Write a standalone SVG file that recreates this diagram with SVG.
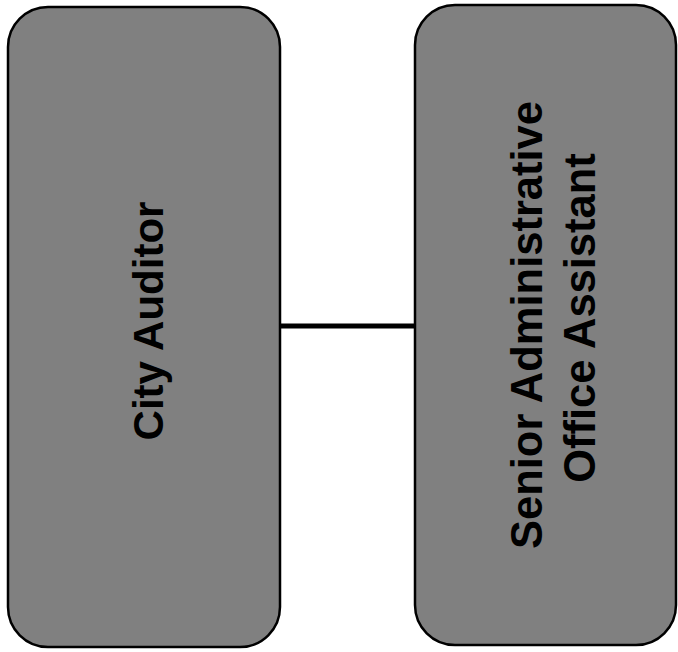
<svg xmlns="http://www.w3.org/2000/svg" width="678" height="652" viewBox="0 0 678 652">
<style>
.box{fill:#808080;stroke:#000;stroke-width:2.5}
.lbl{font-family:"Liberation Sans",Arial,sans-serif;font-weight:bold;font-size:42px;fill:#000;text-anchor:middle}
.lbl2{font-size:43.5px}
.conn{stroke:#000;stroke-width:5;fill:none}
</style>
<rect width="678" height="652" fill="#fff"/>
<g id="connectors">
<line class="conn" x1="280" y1="326" x2="415" y2="326"/>
</g>
<g id="city-auditor">
<rect class="box" x="8" y="7" width="272" height="640" rx="40" ry="40"/>
<text class="lbl" transform="translate(163,321) rotate(-90)">City Auditor</text>
</g>
<g id="senior-admin-assistant">
<rect class="box" x="415" y="5" width="261" height="640" rx="40" ry="40"/>
<text class="lbl lbl2" transform="translate(542,325) rotate(-90)">Senior Administrative</text>
<text class="lbl lbl2" transform="translate(595,318) rotate(-90)">Office Assistant</text>
</g>
</svg>
